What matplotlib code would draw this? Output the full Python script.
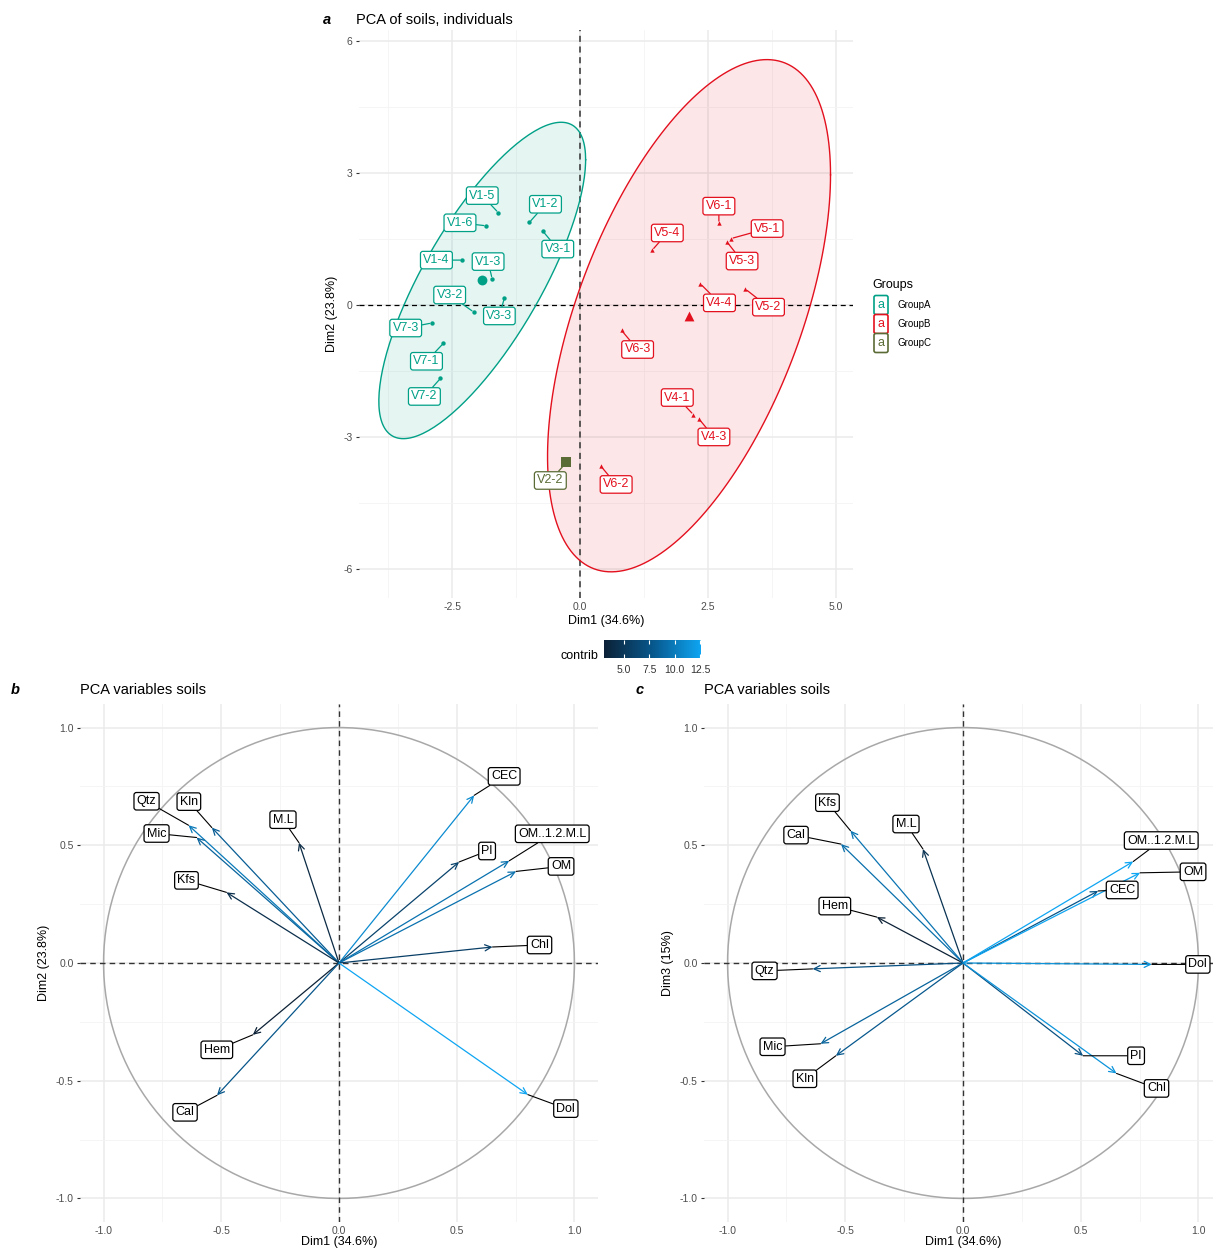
import numpy as np
import matplotlib.pyplot as plt
from matplotlib.colors import LinearSegmentedColormap, Normalize
from matplotlib.cm import ScalarMappable

plt.rcParams['font.family'] = ['Liberation Sans', 'DejaVu Sans']
plt.rcParams['axes.unicode_minus'] = False

# individuals on Dim1 / Dim2
ind_names = ['V1-5', 'V1-6', 'V1-2', 'V3-1', 'V1-4', 'V1-3', 'V3-3', 'V3-2', 'V7-3', 'V7-1', 'V7-2',
             'V6-1', 'V5-1', 'V5-4', 'V5-3', 'V4-4', 'V5-2', 'V6-3', 'V4-1', 'V4-3', 'V6-2',
             'V2-2']
ind_group = [0] * 11 + [1] * 10 + [2]
ind_dim1 = [-1.60, -1.84, -0.99, -0.73, -2.30, -1.72, -1.48, -2.08, -2.90, -2.67, -2.73,
            2.71, 2.95, 1.41, 2.87, 2.35, 3.23, 0.81, 2.21, 2.32, 0.41,
            -0.27]
ind_dim2 = [2.10, 1.80, 1.88, 1.68, 1.02, 0.60, 0.16, -0.16, -0.41, -0.87, -1.67,
            1.86, 1.51, 1.25, 1.43, 0.48, 0.36, -0.58, -2.49, -2.59, -3.67,
            -3.58]

group_names = ['GroupA', 'GroupB', 'GroupC']
group_colors = ['#00A087', '#E3101E', '#5A6B35']
group_markers = ['o', '^', 's']

# variables
var_names = ['CEC', 'Qtz', 'Kln', 'Mic', 'M.L', 'Kfs', 'Pl', 'OM..1.2.M.L', 'OM', 'Chl', 'Hem', 'Cal', 'Dol']
var_dim1 = [0.574, -0.639, -0.540, -0.605, -0.170, -0.478, 0.510, 0.723, 0.752, 0.652, -0.366, -0.518, 0.802]
var_dim2 = [0.712, 0.585, 0.575, 0.533, 0.511, 0.300, 0.429, 0.434, 0.389, 0.068, -0.305, -0.562, -0.559]
var_dim3 = [0.306, -0.025, -0.394, -0.343, 0.484, 0.562, -0.394, 0.431, 0.383, -0.469, 0.195, 0.505, -0.006]
contrib_12 = [11.0, 9.9, 8.2, 8.6, 3.8, 4.2, 6.0, 9.4, 9.4, 5.7, 3.0, 7.7, 12.6]
contrib_13 = [6.6, 6.3, 6.9, 7.5, 4.1, 8.4, 6.4, 11.0, 11.0, 10.0, 2.7, 8.1, 10.0]

# label offsets (pixels) for repelled labels
ind_offsets = [(-16, 17), (-26, 3), (16, 18), (15, -18), (-26, 0), (-4, 17), (-5, -18), (-24, 17),
               (-26, -5), (-17, -18), (-16, -18),
               (0, 17), (36, 10), (15, 17), (15, -19), (19, -19), (23, -18), (16, -19),
               (-16, 17), (15, -18), (15, -18),
               (-16, -18)]
off_12 = [(30, 19), (-42, 24), (-23, 26), (-40, 4), (-16, 23), (-40, 12), (28, 11), (43, 27),
          (45, 5), (47, 2), (-36, -15), (-32, -17), (38, -14)]
off_13 = [(24, 1), (-48, -2), (-31, -23), (-48, -3), (-17, 25), (-23, 28), (53, 0), (28, 21),
          (53, 1), (40, -15), (-42, 11), (-45, 9), (46, 0)]

W, H = 1213, 1249
fig = plt.figure(figsize=(W / 100, H / 100), dpi=100)


def px_axes(x0, y0, x1, y1):
    return fig.add_axes([x0 / W, 1 - y1 / H, (x1 - x0) / W, (y1 - y0) / H])


def style_axes(ax):
    for s in ax.spines.values():
        s.set_visible(False)
    ax.grid(which='major', color='#EBEBEB', lw=1.1, zorder=0)
    ax.grid(which='minor', color='#F4F4F4', lw=0.6, zorder=0)
    ax.set_axisbelow(True)
    ax.tick_params(axis='both', which='major', labelsize=7.5, labelcolor='#4D4D4D', color='#333333')
    ax.tick_params(axis='x', length=0, pad=3)
    ax.tick_params(axis='y', length=2.5, width=0.8, pad=2)
    ax.tick_params(which='minor', length=0)


def norm_ellipse(x, y, level=0.95, n=200):
    pts = np.column_stack([x, y])
    d = len(x) - 1
    qf = d / 2 * ((1 - level) ** (-2 / d) - 1)
    r = np.sqrt(2 * qf)
    t = np.linspace(0, 2 * np.pi, n)
    circ = np.column_stack([np.cos(t), np.sin(t)])
    chol = np.linalg.cholesky(np.cov(pts, rowvar=False)).T
    return pts.mean(axis=0) + r * circ @ chol


# ---------------- panel a: individuals ----------------
ax = px_axes(359, 30, 853, 598)
style_axes(ax)
ax.set_xlim(-4.32, 5.33)
ax.set_ylim(-6.66, 6.25)
ax.set_xticks([-2.5, 0, 2.5, 5.0])
ax.set_xticklabels(['-2.5', '0.0', '2.5', '5.0'])
ax.set_xticks([-3.75, -1.25, 1.25, 3.75], minor=True)
ax.set_yticks([-6, -3, 0, 3, 6])
ax.set_yticks([-4.5, -1.5, 1.5, 4.5], minor=True)
ax.axhline(0, color='black', ls=(0, (4, 3)), lw=0.9, zorder=2)
ax.axvline(0, color='#333333', ls=(0, (4, 3)), lw=1.1, zorder=2)

gx = np.array(ind_dim1)
gy = np.array(ind_dim2)
gg = np.array(ind_group)
for g, (name, col, mk) in enumerate(zip(group_names, group_colors, group_markers)):
    sel = gg == g
    if sel.sum() > 2:
        el = norm_ellipse(gx[sel], gy[sel])
        ax.fill(el[:, 0], el[:, 1], color=col, alpha=0.1, lw=0, zorder=1)
        ax.plot(el[:, 0], el[:, 1], color=col, lw=1.0, zorder=3)
    ax.scatter(gx[sel], gy[sel], s=10 if mk != 's' else 0, marker=mk, color=col, lw=0, zorder=4)
    ax.scatter([gx[sel].mean()], [gy[sel].mean()], s=50, marker=mk, color=col, lw=0, zorder=4)

for name, x, y, g, off in zip(ind_names, ind_dim1, ind_dim2, ind_group, ind_offsets):
    col = group_colors[g]
    ax.annotate(name, xy=(x, y), xytext=off, textcoords='offset pixels', ha='center', va='center',
                fontsize=9, color=col, zorder=6,
                bbox=dict(boxstyle='round,pad=0.22,rounding_size=0.2', fc='white', ec=col, lw=0.9),
                arrowprops=dict(arrowstyle='-', color=col, lw=0.9, shrinkA=0, shrinkB=1.5))

ax.set_xlabel('Dim1 (34.6%)', fontsize=9, labelpad=2)
ax.set_ylabel('Dim2 (23.8%)', fontsize=9, labelpad=4)
fig.text(323 / W, 1 - 20 / H, 'a', fontsize=10.5, fontweight='bold', fontstyle='italic', va='center')
fig.text(356 / W, 1 - 20 / H, 'PCA of soils, individuals', fontsize=10.5, va='center')

# legend for groups
fig.text(872 / W, 1 - 285 / H, 'Groups', fontsize=9, va='center')
for i, (name, col) in enumerate(zip(group_names, group_colors)):
    yy = 1 - (305 + 19 * i) / H
    fig.text(881 / W, yy, 'a', fontsize=9, color=col, ha='center', va='center',
             bbox=dict(boxstyle='round,pad=0.28,rounding_size=0.15', fc='white', ec=col, lw=1.2))
    fig.text(897 / W, yy, name, fontsize=7, va='center')

# colorbar for contrib
cmap = LinearSegmentedColormap.from_list('contrib', ['#0C2136', '#07578C', '#0EA5F2'])
norm12 = Normalize(min(contrib_12), max(contrib_12))
cax = px_axes(604, 640, 701, 658)
cb = fig.colorbar(ScalarMappable(norm=norm12, cmap=cmap), cax=cax, orientation='horizontal')
cb.outline.set_visible(False)
cb.set_ticks([5.0, 7.5, 10.0, 12.5])
cb.set_ticklabels(['5.0', '7.5', '10.0', '12.5'])
cax.tick_params(axis='x', direction='in', color='white', length=3, width=0.8, labelsize=7.5,
                labelcolor='#333333', pad=5, top=True)
fig.text(598 / W, 1 - 656 / H, 'contrib', fontsize=9, ha='right', va='center')


# ---------------- panels b and c: variables ----------------
def var_panel(box, ydata, contrib, offsets, ylabel, letter, lx):
    ax = px_axes(*box)
    style_axes(ax)
    ax.set_xlim(-1.1, 1.1)
    ax.set_ylim(-1.1, 1.1)
    ticks = [-1.0, -0.5, 0.0, 0.5, 1.0]
    ax.set_xticks(ticks)
    ax.set_yticks(ticks)
    ax.set_xticklabels(['-1.0', '-0.5', '0.0', '0.5', '1.0'])
    ax.set_yticklabels(['-1.0', '-0.5', '0.0', '0.5', '1.0'])
    ax.set_xticks([-0.75, -0.25, 0.25, 0.75], minor=True)
    ax.set_yticks([-0.75, -0.25, 0.25, 0.75], minor=True)
    t = np.linspace(0, 2 * np.pi, 300)
    ax.plot(np.cos(t), np.sin(t), color='#A8A8A8', lw=1.1, zorder=1)
    ax.axhline(0, color='#333333', ls=(0, (4, 3)), lw=1.0, zorder=2)
    ax.axvline(0, color='#333333', ls=(0, (4, 3)), lw=1.0, zorder=2)
    norm = Normalize(min(contrib), max(contrib))
    for name, x, y, c, off in zip(var_names, var_dim1, ydata, contrib, offsets):
        col = cmap(norm(c))
        ax.annotate('', xy=(x, y), xytext=(0, 0),
                    arrowprops=dict(arrowstyle='->,head_length=0.45,head_width=0.22', color=col,
                                    lw=0.9, shrinkA=0, shrinkB=0), zorder=3)
        ax.annotate(name, xy=(x, y), xytext=off, textcoords='offset pixels', ha='center',
                    va='center', fontsize=9, color='black', zorder=6,
                    bbox=dict(boxstyle='round,pad=0.22,rounding_size=0.2', fc='white', ec='black', lw=0.9),
                    arrowprops=dict(arrowstyle='-', color='black', lw=0.8, shrinkA=0, shrinkB=0))
    ax.set_xlabel('Dim1 (34.6%)', fontsize=9, labelpad=0)
    ax.set_ylabel(ylabel, fontsize=9, labelpad=4)
    fig.text(lx / W, 1 - 690 / H, letter, fontsize=10.5, fontweight='bold', fontstyle='italic', va='center')
    fig.text(box[0] / W, 1 - 690 / H, 'PCA variables soils', fontsize=10.5, va='center')
    return ax


var_panel((80, 704, 598, 1222), var_dim2, contrib_12, off_12, 'Dim2 (23.8%)', 'b', 11)
var_panel((704, 704, 1222, 1222), var_dim3, contrib_13, off_13, 'Dim3 (15%)', 'c', 636)

fig.savefig('out.png', dpi=100)
